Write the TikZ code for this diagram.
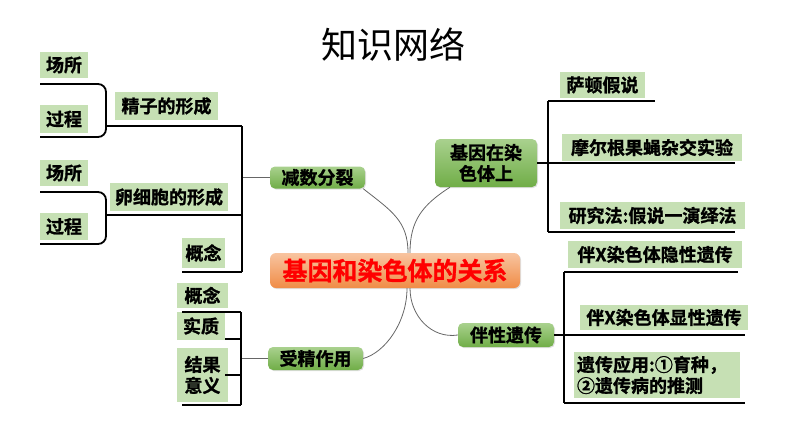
\documentclass[tikz,border=0pt]{standalone}
\usepackage{fontspec}
\setmainfont{Noto Sans CJK SC}[BoldFont={Noto Sans CJK SC Bold},BoldFeatures={FakeBold=1.2}]
\usetikzlibrary{shadows}

\definecolor{labgreen}{RGB}{198,224,180}
\definecolor{nodegreenA}{RGB}{169,209,142}
\definecolor{nodegreenB}{RGB}{112,173,71}
\definecolor{coreA}{RGB}{248,196,160}
\definecolor{coreB}{RGB}{240,140,70}

\begin{document}
\begin{tikzpicture}[x=1pt,y=-1pt,
    lab/.style={fill=labgreen,inner sep=1pt,font=\bfseries\fontsize{18}{21}\selectfont},
    branch/.style={rounded corners=5pt,top color=nodegreenA,bottom color=nodegreenB,
      drop shadow={shadow xshift=1pt,shadow yshift=-1pt,opacity=.25},
      inner sep=1pt,font=\bfseries\fontsize{18}{21}\selectfont},
    core/.style={rounded corners=6pt,top color=coreA,bottom color=coreB,
      drop shadow={shadow xshift=1pt,shadow yshift=-1pt,opacity=.25},
      text=red,font=\bfseries\fontsize{25}{28}\selectfont},
    tree/.style={line width=1.8pt},
    link/.style={line width=.8pt,black!60}]
\useasboundingbox (0,0) rectangle (794,447);

\node (title) at (393,45) {\fontsize{36}{40}\selectfont 知识网络};

% centre and branches
\node[core,minimum width=250pt,minimum height=35pt] (core) at (395,270.5) {基因和染色体的关系};
\node[branch,minimum width=95pt,minimum height=22pt] (jsfl) at (317.5,177.5) {减数分裂};
\node[branch,minimum width=102pt,minimum height=48pt,align=center] (jyrs) at (486,163) {基因在染\\色体上};
\node[branch,minimum width=96pt,minimum height=24pt] (bxyc) at (506,335) {伴性遗传};
\node[branch,minimum width=95pt,minimum height=23pt] (szzy) at (315.5,358.5) {受精作用};

\draw[link] ([xshift=-2pt]jsfl.south east) .. controls +(28,22) and +(0,-32) .. ([xshift=13pt]core.north);
\draw[link] ([xshift=-36pt]jyrs.south) .. controls +(-28,18) and +(0,-32) .. ([xshift=15pt]core.north);
\draw[link] ([xshift=12pt]core.south) .. controls +(0,34) and +(22,-6) .. (szzy.east);
\draw[link] ([xshift=15pt]core.south) .. controls +(0,28) and +(-26,4) .. (bxyc.west);

% meiosis
\node[lab,minimum width=48pt,minimum height=26pt] (cs1) at (64,65) {场所};
\node[lab,minimum width=48pt,minimum height=28pt] (gc1) at (64,119) {过程};
\node[lab,minimum width=103pt,minimum height=28pt] (jz) at (166.5,106) {精子的形成};
\node[lab,minimum width=48pt,minimum height=26pt] (cs2) at (64,173) {场所};
\node[lab,minimum width=48pt,minimum height=27pt] (gc2) at (64,226.5) {过程};
\node[lab,minimum width=118pt,minimum height=28pt] (lxb) at (169,197) {卵细胞的形成};
\node[lab,minimum width=43pt,minimum height=30pt] (gn1) at (203.5,253) {概念};

\coordinate (jsfl-v) at (242,177.5);
\coordinate (jz-r) at (242,126);
\coordinate (lxb-r) at (242,215);
\coordinate (gn1-r) at (242,272);
\draw[link] (jsfl.west) -- (jsfl-v);
\draw[tree] (jz-r) -- (gn1-r);
\draw[tree] (jz-r) -- (106,126);
\draw[tree] (lxb-r) -- (106,215);
\draw[tree] (gn1-r) -- (182,272);
\draw[tree,rounded corners=8pt] (40,84) -- (106,84) -- (106,137) -- (40,137);
\draw[tree,rounded corners=8pt] (40,192) -- (106,192) -- (106,244) -- (40,244);

% fertilization
\node[lab,minimum width=51pt,minimum height=25pt] (gn2) at (202.5,295.5) {概念};
\node[lab,minimum width=48pt,minimum height=28pt] (sz) at (201,326) {实质};
\node[lab,minimum width=51pt,minimum height=54pt,align=left] (jgyy) at (202.5,375) {结果\\意义};

\coordinate (szzy-v) at (241,358.5);
\coordinate (fz-t) at (241,312);
\coordinate (fz-b) at (241,405);
\draw[link] (szzy.west) -- (szzy-v);
\draw[tree] (fz-t) -- (fz-b);
\draw[tree] (fz-t) -- (182,312);
\draw[tree] (241,339) -- (225,339);
\draw[tree] (241,375) -- (225,375);
\draw[tree] (fz-b) -- (182,405);

% genes on chromosomes
\node[lab,minimum width=85pt,minimum height=26pt] (sd) at (602.5,85) {萨顿假说};
\node[lab,minimum width=180pt,minimum height=27pt] (meg) at (652,147.5) {摩尔根果蝇杂交实验};
\node[lab,minimum width=185pt,minimum height=27pt] (yjf) at (652.5,215.5) {研究法:假说一演绎法};

\coordinate (jyrs-v) at (548,163);
\coordinate (sd-l) at (548,101);
\coordinate (yjf-l) at (548,232);
\draw[tree] (jyrs.east) -- (jyrs-v) -- (735,163);
\draw[tree] (sd-l) -- (yjf-l);
\draw[tree] (sd-l) -- (655,101);
\draw[tree] (yjf-l) -- (735,232);

% sex-linked inheritance
\node[lab,minimum width=174pt,minimum height=27pt] (yx) at (655,254.5) {伴X染色体隐性遗传};
\node[lab,minimum width=168pt,minimum height=25pt] (xx) at (664,317.5) {伴X染色体显性遗传};
\node[lab,minimum width=166pt,minimum height=46pt,align=left,text width=160pt] (yy) at (657,375) {遗传应用:①育种，\\②遗传病的推测};

\coordinate (bxyc-v) at (564,335);
\coordinate (yx-l) at (564,272);
\coordinate (yy-l) at (564,403);
\draw[tree] (bxyc.east) -- (bxyc-v) -- (745,335);
\draw[tree] (yx-l) -- (yy-l);
\draw[tree] (yx-l) -- (738,272);
\draw[tree] (yy-l) -- (745,403);
\end{tikzpicture}
\end{document}
